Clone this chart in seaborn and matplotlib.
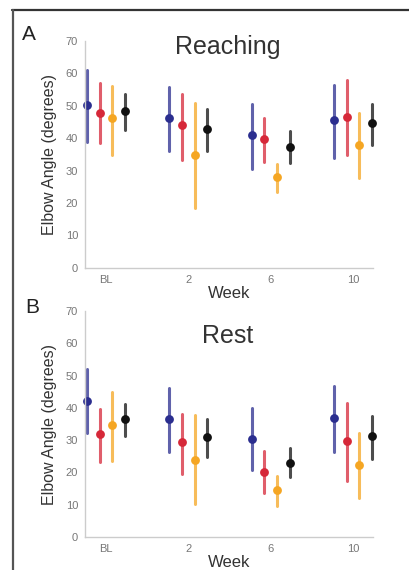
import matplotlib
matplotlib.use("Agg")
import pandas as pd
import matplotlib.pyplot as plt
import seaborn as sns
from matplotlib.lines import Line2D

sns.set_style("white")
plt.rcParams['font.family'] = ['Liberation Sans', 'DejaVu Sans']

weeks = ["BL", "2", "6", "10"]
groups = ["Group 1", "Group 2", "Group 3", "Group 4"]
colors = ["#2b2e8f", "#d62839", "#f5a623", "#111111"]

# one row per group, one column per week
reach_mean = [[50.3, 46.2, 41.0, 45.5],
              [47.9, 44.0, 39.7, 46.7],
              [46.2, 34.9, 28.2, 38.0],
              [48.5, 42.9, 37.4, 44.7]]
reach_hi = [[61.1, 55.7, 50.5, 56.5],
            [57.0, 53.6, 46.2, 58.0],
            [56.2, 50.8, 32.0, 47.7],
            [53.6, 49.0, 42.1, 50.6]]
reach_lo = [[39.0, 36.2, 30.5, 33.9],
            [38.5, 33.2, 32.6, 34.9],
            [34.9, 18.5, 23.4, 27.7],
            [42.4, 36.2, 32.5, 37.8]]

rest_mean = [[42.3, 36.5, 30.5, 36.8],
             [31.9, 29.3, 20.0, 29.8],
             [34.7, 23.9, 14.6, 22.4],
             [36.5, 31.1, 22.9, 31.3]]
rest_hi = [[52.0, 46.1, 39.9, 46.8],
           [39.6, 38.1, 26.5, 41.6],
           [45.1, 37.8, 18.8, 32.2],
           [41.2, 36.5, 27.7, 37.5]]
rest_lo = [[32.2, 26.3, 20.8, 26.2],
           [23.1, 19.6, 13.6, 17.2],
           [23.4, 10.3, 9.5, 12.1],
           [31.3, 24.9, 18.5, 24.2]]


def long_table(mean, hi, lo):
    # median of (lo, mean, hi) is the mean, 0-100 percentile gives lo..hi
    rows = []
    for gi, g in enumerate(groups):
        for wi, w in enumerate(weeks):
            for v in (lo[gi][wi], mean[gi][wi], hi[gi][wi]):
                rows.append({"week": w, "group": g, "angle": v})
    return pd.DataFrame(rows)


def draw_panel(ax, df):
    sns.pointplot(data=df, x="week", y="angle", hue="group", order=weeks,
                  hue_order=groups, palette=colors, estimator="median",
                  errorbar=("pi", 100), dodge=0.46, linestyle="none",
                  marker="o", markersize=4.3, legend=False,
                  err_kws={"linewidth": 2.2, "alpha": 0.75}, ax=ax)
    for ln in ax.lines:
        ln.set_clip_on(False)
    for c in ax.collections:
        c.set_clip_on(False)
    ax.set_xlim(-0.255, 3.243)
    ax.set_ylim(0, 70)
    ax.set_yticks(range(0, 71, 10))
    ax.set_xlabel("Week", fontsize=12, color="#333333", labelpad=1)
    ax.set_ylabel("Elbow Angle (degrees)", fontsize=11.5, color="#333333", labelpad=6)
    for s in ["top", "right"]:
        ax.spines[s].set_visible(False)
    for s in ["left", "bottom"]:
        ax.spines[s].set_color("#cccccc")
        ax.spines[s].set_linewidth(1)
    ax.tick_params(axis="both", labelsize=8, colors="#777777", length=2, pad=3)


fig = plt.figure(figsize=(4.09, 5.70), dpi=100)
ax1 = fig.add_axes([0.208, 0.530, 0.704, 0.398])
ax2 = fig.add_axes([0.208, 0.058, 0.704, 0.396])

draw_panel(ax1, long_table(reach_mean, reach_hi, reach_lo))
draw_panel(ax2, long_table(rest_mean, rest_hi, rest_lo))

fig.text(228 / 409, 1 - 54 / 570, "Reaching", fontsize=18, ha="center",
         va="baseline", color="#333333")
fig.text(228 / 409, 1 - 343 / 570, "Rest", fontsize=18, ha="center",
         va="baseline", color="#333333")
fig.text(22 / 409, 1 - 40 / 570, "A", fontsize=15, va="baseline", color="#222222")
fig.text(25 / 409, 1 - 313 / 570, "B", fontsize=15, va="baseline", color="#222222")

# dark frame on top and left
fig.add_artist(Line2D([12 / 409, 1], [1 - 10 / 570, 1 - 10 / 570],
                      transform=fig.transFigure, color="#333333", lw=1.6))
fig.add_artist(Line2D([13 / 409, 13 / 409], [0, 1 - 10 / 570],
                      transform=fig.transFigure, color="#555555", lw=1.6))

fig.savefig("out.png", dpi=100)
